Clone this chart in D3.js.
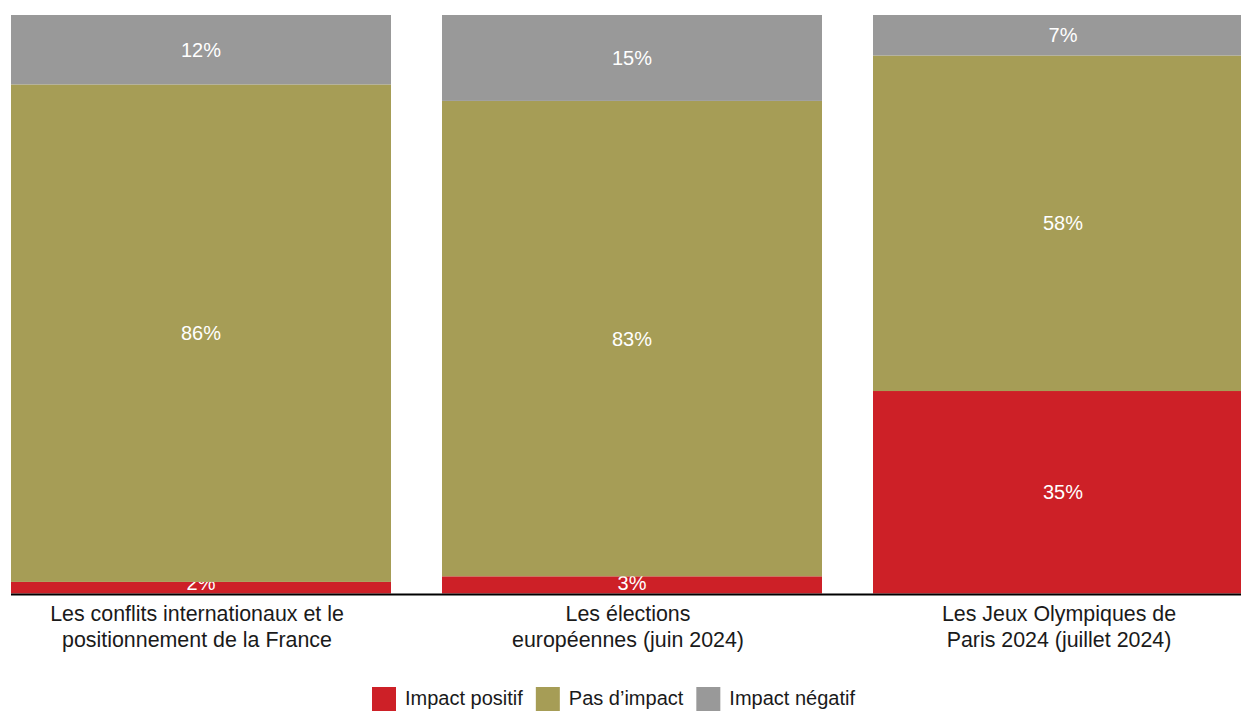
<!DOCTYPE html>
<html>
<head>
<meta charset="utf-8">
<script src="https://cdn.jsdelivr.net/npm/d3@7"></script>
<style>
  html, body { margin: 0; padding: 0; background: #fff; }
  svg { display: block; font-family: "Liberation Sans", Arial, sans-serif; }
</style>
</head>
<body>
<svg id="chart" width="1241" height="711"></svg>
<script>
// Categories (two-line axis labels)
const categories = [
  ["Les conflits internationaux et le", "positionnement de la France"],
  ["Les élections", "européennes (juin 2024)"],
  ["Les Jeux Olympiques de", "Paris 2024 (juillet 2024)"]
];
// Series, stacked from the bottom up
const seriesNames = ["Impact positif", "Pas d’impact", "Impact négatif"];
const seriesColors = ["#cd2027", "#a69d56", "#999999"];
const impactPositif = [2, 3, 35];
const pasDImpact = [86, 83, 58];
const impactNegatif = [12, 15, 7];

const rows = categories.map((c, i) => ({
  idx: i,
  "Impact positif": impactPositif[i],
  "Pas d’impact": pasDImpact[i],
  "Impact négatif": impactNegatif[i]
}));

const svg = d3.select("#chart");
const plotTop = 15, plotBottom = 593.5, plotLeft = 11;

const x = d3.scaleBand()
  .domain(rows.map(d => d.idx))
  .range([plotLeft, 1253])
  .paddingInner(51 / 431)
  .paddingOuter(0);

const y = d3.scaleLinear().domain([0, 1]).range([plotBottom, plotTop]);
const color = d3.scaleOrdinal().domain(seriesNames).range(seriesColors);

const stacked = d3.stack().keys(seriesNames).offset(d3.stackOffsetExpand)(rows);

const layers = svg.append("g").selectAll("g")
  .data(stacked).join("g")
  .attr("fill", d => color(d.key));

layers.selectAll("rect")
  .data(d => d.map(s => ({ s, key: d.key })))
  .join("rect")
  .attr("x", d => x(d.s.data.idx))
  .attr("width", x.bandwidth())
  .attr("y", d => y(d.s[1]))
  .attr("height", d => y(d.s[0]) - y(d.s[1]));

// Value labels inside each segment (kept above the baseline for thin segments)
layers.selectAll("text")
  .data(d => d.map(s => ({ s, key: d.key })))
  .join("text")
  .attr("x", d => x(d.s.data.idx) + x.bandwidth() / 2)
  .attr("y", d => Math.min((y(d.s[0]) + y(d.s[1])) / 2, plotBottom - 11))
  .attr("dy", "0.35em")
  .attr("text-anchor", "middle")
  .attr("fill", "#ffffff")
  .style("font-size", "20px")
  .text(d => d.s.data[d.key] + "%");

// Baseline
svg.append("line")
  .attr("x1", plotLeft).attr("x2", 1241)
  .attr("y1", 594.5).attr("y2", 594.5)
  .attr("stroke", "#000").attr("stroke-width", 2);

// Category labels
const catG = svg.append("g");
categories.forEach((lines, i) => {
  const t = catG.append("text")
    .attr("text-anchor", "middle")
    .attr("fill", "#1a1a1a")
    .style("font-size", "21.4px");
  lines.forEach((ln, j) => {
    t.append("tspan")
      .attr("x", x(i) + x.bandwidth() / 2 - 4)
      .attr("y", 621 + j * 26)
      .text(ln);
  });
});

// Legend
const legend = svg.append("g");
let lx = 372;
seriesNames.forEach(name => {
  legend.append("rect")
    .attr("x", lx).attr("y", 687)
    .attr("width", 24).attr("height", 24)
    .attr("fill", color(name));
  const t = legend.append("text")
    .attr("x", lx + 33).attr("y", 705)
    .attr("fill", "#1a1a1a")
    .style("font-size", "20px")
    .text(name);
  lx += 33 + t.node().getComputedTextLength() + 13;
});
</script>
</body>
</html>
